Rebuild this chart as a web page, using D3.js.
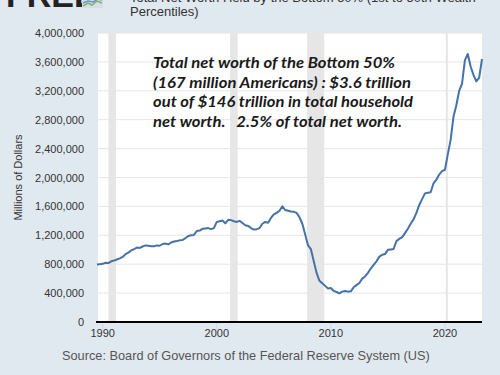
<!DOCTYPE html>
<html>
<head>
<meta charset="utf-8">
<script src="https://cdn.jsdelivr.net/npm/d3@7"></script>
<style>
  body { margin: 0; background: #e1e9f0; }
  svg { display: block; font-family: "Liberation Sans", Arial, sans-serif; }
</style>
</head>
<body>
<svg id="chart" width="500" height="375"></svg>
<script>
// quarterly, starting 1989 Q3, millions of dollars
const startYear = 1989.5;
const netWorth = [
  795000, 800000,
  805000, 820000, 815000, 840000,
  850000, 865000, 880000, 900000,
  940000, 960000, 990000, 1010000,
  1030000, 1025000, 1045000, 1060000,
  1055000, 1050000, 1048000, 1060000,
  1055000, 1080000, 1085000, 1075000,
  1100000, 1115000, 1120000, 1130000,
  1135000, 1160000, 1190000, 1200000,
  1205000, 1260000, 1265000, 1290000,
  1295000, 1300000, 1285000, 1300000,
  1385000, 1395000, 1405000, 1365000,
  1415000, 1410000, 1395000, 1385000,
  1400000, 1370000, 1340000, 1330000,
  1300000, 1280000, 1285000, 1300000,
  1360000, 1385000, 1375000, 1440000,
  1490000, 1510000, 1540000, 1600000,
  1550000, 1540000, 1530000, 1525000,
  1510000, 1450000, 1360000, 1210000,
  1060000, 1010000, 840000, 680000,
  570000, 535000, 500000, 465000,
  470000, 430000, 415000, 395000,
  420000, 430000, 420000, 425000,
  480000, 510000, 540000, 600000,
  630000, 680000, 740000, 790000,
  840000, 905000, 930000, 940000,
  1000000, 1005000, 1010000, 1120000,
  1150000, 1175000, 1230000, 1290000,
  1360000, 1420000, 1510000, 1620000,
  1700000, 1780000, 1790000, 1795000,
  1920000, 1970000, 2040000, 2090000,
  2105000, 2320000, 2520000, 2840000,
  3000000, 3200000, 3300000, 3620000,
  3710000, 3540000, 3420000, 3330000,
  3380000, 3640000
];
const recessions = [[1990.5, 1991.17], [2001.17, 2001.83], [2007.92, 2009.42], [2020.08, 2020.25]];
const yTicks = [0, 400000, 800000, 1200000, 1600000, 2000000, 2400000, 2800000, 3200000, 3600000, 4000000];
const xTicks = [1990, 2000, 2010, 2020];
const noteLines = [
  "Total net worth of the Bottom 50%",
  "(167 million Americans) : $3.6 trillion",
  "out of $146 trillion in total household",
  "net worth.   2.5% of total net worth."
];
const noteWidths = [242, 258, 260, 249];

const data = netWorth.map((v, i) => ({ t: startYear + i / 4, v: v }));

const svg = d3.select('#chart');
const plotL = 98, plotR = 482, plotT = 33, plotB = 322;

const x = d3.scaleLinear().domain([startYear, data[data.length - 1].t]).range([plotL - 1, plotR]);
const y = d3.scaleLinear().domain([0, 4000000]).range([plotB, plotT]);

// header (top is cropped in the original)
svg.append('text').attr('x', 6).attr('y', 7)
  .attr('font-size', 34).attr('font-weight', 'bold').attr('fill', '#222')
  .text('FRED');
svg.append('rect').attr('x', 82).attr('y', -4).attr('width', 21).attr('height', 12)
  .attr('fill', '#d6dee6');
svg.append('polyline').attr('points', '83,6 88,3 92,5 97,1 102,3')
  .attr('fill', 'none').attr('stroke', '#7fb26a').attr('stroke-width', 1.5);
svg.append('polyline').attr('points', '83,3 88,1 93,2 98,-1 102,0')
  .attr('fill', 'none').attr('stroke', '#6d93c4').attr('stroke-width', 1.5);

const title = svg.append('text').attr('x', 130).attr('font-size', 13).attr('fill', '#333');
title.append('tspan').attr('x', 130).attr('y', 2).text('Total Net Worth Held by the Bottom 50% (1st to 50th Wealth');
title.append('tspan').attr('x', 130).attr('y', 16).text('Percentiles)');

// plot background
svg.append('rect').attr('x', plotL).attr('y', plotT).attr('width', plotR - plotL).attr('height', plotB - plotT)
  .attr('fill', '#fff');

// recession shading
svg.selectAll('.rec').data(recessions).enter().append('rect')
  .attr('x', d => x(d[0])).attr('width', d => x(d[1]) - x(d[0]))
  .attr('y', plotT).attr('height', plotB - plotT)
  .attr('fill', '#e6e6e6');

// grid
svg.selectAll('.grid').data(yTicks).enter().append('line')
  .attr('x1', plotL).attr('x2', plotR)
  .attr('y1', d => y(d)).attr('y2', d => y(d))
  .attr('stroke', '#e6e6e6').attr('stroke-width', 1);

// y labels
svg.selectAll('.ylab').data(yTicks).enter().append('text')
  .attr('x', 84).attr('y', d => y(d) + 4)
  .attr('text-anchor', 'end').attr('font-size', 11).attr('fill', '#333')
  .text(d => d3.format(',')(d));

svg.append('text')
  .attr('transform', 'translate(22,' + ((plotT + plotB) / 2) + ') rotate(-90)')
  .attr('text-anchor', 'middle').attr('font-size', 11).attr('fill', '#333')
  .text('Millions of Dollars');

// x ticks + labels
svg.selectAll('.xt').data(xTicks).enter().append('line')
  .attr('x1', d => x(d)).attr('x2', d => x(d))
  .attr('y1', plotB).attr('y2', plotB + 8)
  .attr('stroke', '#ccd6eb');
svg.selectAll('.xlab').data(xTicks).enter().append('text')
  .attr('x', d => x(d)).attr('y', plotB + 15)
  .attr('text-anchor', 'middle').attr('font-size', 11).attr('fill', '#333')
  .text(d => d);

// axis line
svg.append('line').attr('x1', plotL - 2).attr('x2', plotR)
  .attr('y1', plotB).attr('y2', plotB)
  .attr('stroke', '#000').attr('stroke-width', 2);

// series
const line = d3.line().x(d => x(d.t)).y(d => y(d.v));
svg.append('path').datum(data)
  .attr('d', line)
  .attr('fill', 'none').attr('stroke', '#4572a7').attr('stroke-width', 2)
  .attr('stroke-linejoin', 'round');

// annotation
svg.selectAll('.note').data(noteLines).enter().append('text')
  .attr('x', 153).attr('y', (d, i) => 68 + i * 19.7)
  .attr('font-family', 'Lato, "Open Sans", sans-serif')
  .attr('font-size', 16).attr('font-weight', 'bold').attr('font-style', 'italic')
  .attr('fill', '#1a1a1a')
  .attr('textLength', (d, i) => noteWidths[i]).attr('lengthAdjust', 'spacingAndGlyphs')
  .style('white-space', 'pre')
  .text(d => d);

// source
svg.append('text').attr('x', 62).attr('y', 360)
  .attr('font-size', 12.75).attr('fill', '#555')
  .text('Source: Board of Governors of the Federal Reserve System (US)');
</script>
</body>
</html>
